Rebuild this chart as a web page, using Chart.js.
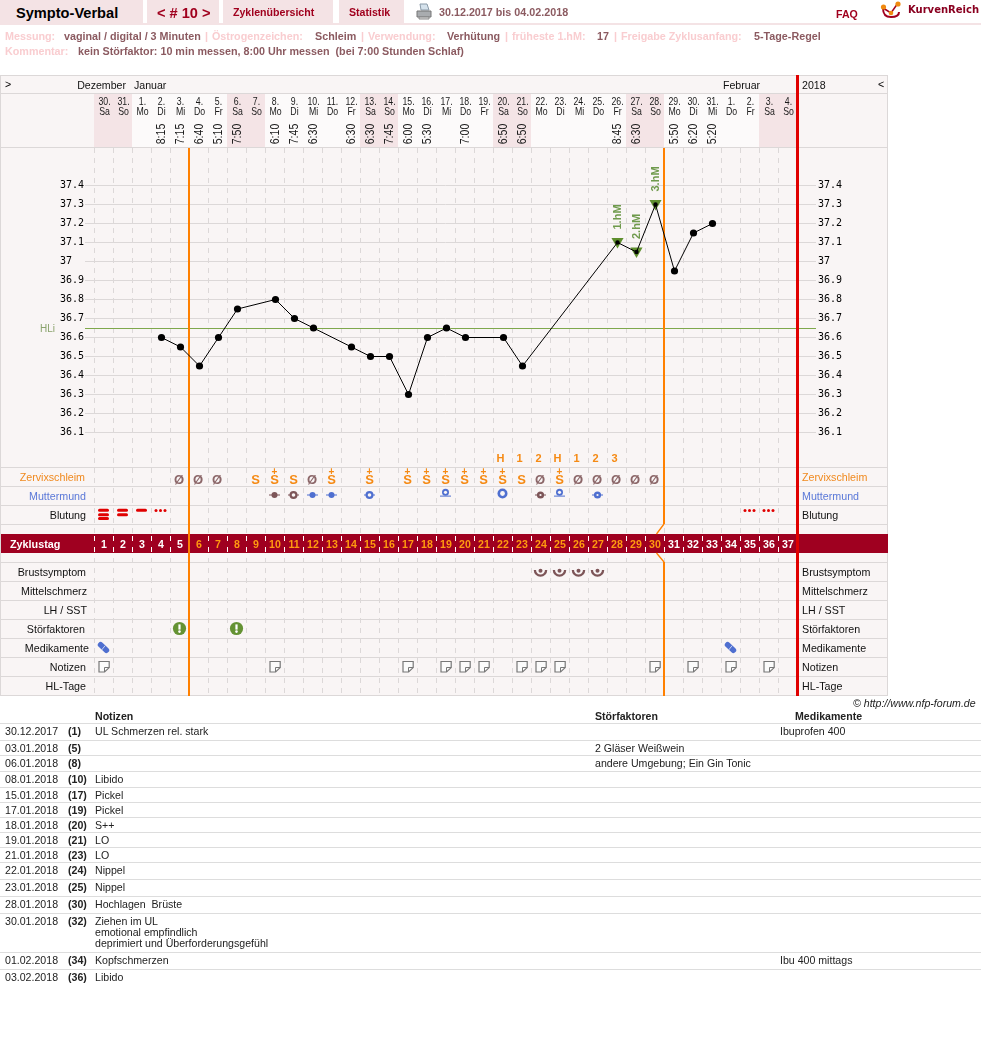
<!DOCTYPE html>
<html lang="de"><head><meta charset="utf-8"><title>Sympto-Verbal</title>
<style>
html,body{margin:0;padding:0;background:#fff}
body{width:981px;height:1064px;position:relative;overflow:hidden;font:10.6px "Liberation Sans",Arial,sans-serif;color:#222}
canvas{position:absolute;left:0;top:0}
.a{position:absolute;white-space:pre;line-height:14px}
.tab{position:absolute;top:0;height:23px;background:#f4e3e5}
.b{font-weight:bold}
.lab{color:#f9cdd0;font-weight:bold;font-size:10.75px}
.val{color:#8b5a60;font-weight:bold;font-size:10.75px}
.nav{color:#a0001e;font-weight:bold}
.ln{position:absolute;left:0;width:981px;height:1px;background:#ddd}
</style></head><body>
<canvas id="c" width="981" height="1064"></canvas>
<div class="tab" style="left:0;width:143px"></div>
<div class="tab" style="left:147px;width:72px"></div>
<div class="tab" style="left:223px;width:110px"></div>
<div class="tab" style="left:339px;width:65px"></div>
<div style="position:absolute;left:0;top:23px;width:981px;height:2px;background:#f4e3e5"></div>
<div class="a b" style="left:16px;top:6px;font-size:14.6px;color:#000">Sympto-Verbal</div>
<div class="a nav" style="left:157px;top:6px;font-size:14.6px">&lt; # 10 &gt;</div>
<div class="a nav" style="left:233px;top:5px">Zyklenübersicht</div>
<div class="a nav" style="left:349px;top:5px">Statistik</div>
<svg style="position:absolute;left:416px;top:3px" width="16" height="17"><path d="M4 1h7l2 6H5z" fill="#d5e2ec" stroke="#8a9aa8"/><path d="M1 8h14v6H1z" fill="#a9acaf" stroke="#777"/><path d="M3 14h10v2H3z" fill="#ddd" stroke="#888"/></svg>
<div class="a val" style="left:439px;top:5px">30.12.2017 bis 04.02.2018</div>
<div class="a nav" style="left:836px;top:7px">FAQ</div>
<svg style="position:absolute;left:880px;top:1px" width="24" height="18"><path d="M3 7c0 6 2 9 8 9s8-2 8-5" fill="none" stroke="#a0001e" stroke-width="2"/><path d="M3 7l8 5 7-10" fill="none" stroke="#a0001e" stroke-width="1.5"/><circle cx="3.5" cy="6" r="2.6" fill="#f08a10"/><circle cx="11" cy="12" r="2.3" fill="#f08a10"/><circle cx="18" cy="3" r="2.6" fill="#f08a10"/></svg>
<div class="a" style="left:908px;top:3px;font:bold 10px 'DejaVu Sans';color:#8a0020;line-height:14px">KurvenReich</div>
<div id="meta"></div>
<div id="notes"></div>
<script src="https://cdn.jsdelivr.net/npm/chart.js@4/dist/chart.umd.min.js"></script>
<script>
// ---------- data ----------
const days = ['30.12','31.12','01.01','02.01','03.01','04.01','05.01','06.01','07.01','08.01','09.01','10.01','11.01','12.01','13.01','14.01','15.01','16.01','17.01','18.01','19.01','20.01','21.01','22.01','23.01','24.01','25.01','26.01','27.01','28.01','29.01','30.01','31.01','01.02','02.02','03.02','04.02'];
const dayNumbers = ['30','31','1','2','3','4','5','6','7','8','9','10','11','12','13','14','15','16','17','18','19','20','21','22','23','24','25','26','27','28','29','30','31','1','2','3','4'];
const weekdays = ['Sa','So','Mo','Di','Mi','Do','Fr','Sa','So','Mo','Di','Mi','Do','Fr','Sa','So','Mo','Di','Mi','Do','Fr','Sa','So','Mo','Di','Mi','Do','Fr','Sa','So','Mo','Di','Mi','Do','Fr','Sa','So'];
const times = ['','','','8:15','7:15','6:40','5:10','7:50','','6:10','7:45','6:30','','6:30','6:30','7:45','6:00','5:30','','7:00','','6:50','6:50','','','','','8:45','6:30','','5:50','6:20','5:20','','','',''];
const temps = [null,null,null,36.6,36.55,36.45,36.6,36.75,null,36.8,36.7,36.65,null,36.55,36.5,36.5,36.3,36.6,36.65,36.6,null,36.6,36.45,null,null,null,null,37.1,37.05,37.3,36.95,37.15,37.2,null,null,null,null];
const tempTicks = [37.4,37.3,37.2,37.1,37,36.9,36.8,36.7,36.6,36.5,36.4,36.3,36.2,36.1];
const coverline = 36.65;
const highLabels = [[27,'1.hM'],[28,'2.hM'],[29,'3.hM']];
const peakRow = ['','','','','','','','','','','','','','','','','','','','','','H','1','2','H','1','2','3','','','','','','','','',''];
const mucus = ['','','','','0','0','0','','S','S+','S','0','S+','','S+','','S+','S+','S+','S+','S+','S+','S','0','S+','0','0','0','0','0','','','','','','',''];
const cervix = ['','','','','','','','','','dotB','ringB','dotA','dotA','','ringA','','','','highA','','','largeA','','ringSB','highA','','ringSA','','','','','','','','','',''];
const bleeding = [3,2,1,'d',0,0,0,0,0,0,0,0,0,0,0,0,0,0,0,0,0,0,0,0,0,0,0,0,0,0,0,0,0,0,'d','d',0];
const cycleDays = ['1','2','3','4','5','6','7','8','9','10','11','12','13','14','15','16','17','18','19','20','21','22','23','24','25','26','27','28','29','30','31','32','33','34','35','36','37'];
const breastDays = [23,24,25,26];
const disturbDays = [4,7];
const medDays = [0,33];
const noteDays = [0,9,16,18,19,20,22,23,24,29,31,33,35];
const phaseEnds = [5,30];
const upperRows = ['Zervixschleim','Muttermund','Blutung'];
const lowerRows = ['Brustsymptom','Mittelschmerz','LH / SST','Störfaktoren','Medikamente','Notizen','HL-Tage'];
const noteRows = [
 ['30.12.2017','(1)','UL Schmerzen rel. stark','','Ibuprofen 400'],
 ['03.01.2018','(5)','','2 Gläser Weißwein',''],
 ['06.01.2018','(8)','','andere Umgebung; Ein Gin Tonic',''],
 ['08.01.2018','(10)','Libido','',''],
 ['15.01.2018','(17)','Pickel','',''],
 ['17.01.2018','(19)','Pickel','',''],
 ['18.01.2018','(20)','S++','',''],
 ['19.01.2018','(21)','LO','',''],
 ['21.01.2018','(23)','LO','',''],
 ['22.01.2018','(24)','Nippel','',''],
 ['23.01.2018','(25)','Nippel','',''],
 ['28.01.2018','(30)','Hochlagen  Brüste','',''],
 ['30.01.2018','(32)','Ziehen im UL\nemotional empfindlich\ndeprimiert und Überforderungsgefühl','',''],
 ['01.02.2018','(34)','Kopfschmerzen','','Ibu 400 mittags'],
 ['03.02.2018','(36)','Libido','','']
];
const metaItems = [
 ['lab','Messung:',5,29],['val','vaginal / digital / 3 Minuten',64,29],['lab','|',205,29],['lab','Östrogenzeichen:',212,29],['val','Schleim',315,29],['lab','|',361,29],['lab','Verwendung:',368,29],['val','Verhütung',447,29],['lab','|',505,29],['lab','früheste 1.hM:',512,29],['val','17',597,29],['lab','|',614,29],['lab','Freigabe Zyklusanfang:',621,29],['val','5-Tage-Regel',754,29],
 ['lab','Kommentar:',5,44],['val','kein Störfaktor: 10 min messen, 8:00 Uhr messen  (bei 7:00 Stunden Schlaf)',78,44]
];

// ---------- html parts ----------
const meta = document.getElementById('meta');
metaItems.forEach(([k,t,x,y])=>{const d=document.createElement('div');d.className='a '+k;d.textContent=t;d.style.left=x+'px';d.style.top=y+'px';meta.appendChild(d);});
const notes = document.getElementById('notes');
function put(t,x,y,extra){const d=document.createElement('div');d.className='a';d.textContent=t;d.style.cssText+='left:'+x+'px;top:'+y+'px;'+(extra||'');notes.appendChild(d);}
put('© http://www.nfp-forum.de',853,696,'font-style:italic;');
put('Notizen',95,709,'font-weight:bold;');put('Störfaktoren',595,709,'font-weight:bold;');put('Medikamente',795,709,'font-weight:bold;');
const rowTops=[724,741,756,772,788,803,818,833,848,863,880,897,914,953,970];
rowTops.forEach((t,i)=>{
  const l=document.createElement('div');l.className='ln';l.style.top=(t-1)+'px';notes.appendChild(l);
  const r=noteRows[i];
  put(r[0],5,t);put(r[1],68,t,'font-weight:bold;');
  r[2].split('\n').forEach((s,j)=>put(s,95,t+j*11));
  put(r[3],595,t);put(r[4],780,t);
});

// ---------- icons ----------
const BROWN='#7d5558',BLUE='#4f6fd0',RED='#e00000',GREEN='#649233',PANEL='#f9f5f5',ORANGE='#ff8000',GRID='#dcd8d8';
function icon(fn){const c=document.createElement('canvas');c.width=19;c.height=19;fn(c.getContext('2d'));return c;}
function bars(n){return icon(g=>{g.fillStyle=RED;[2.7,7.3,11].slice(0,n).forEach(y=>{g.beginPath();g.roundRect(4,y,11,3,1.5);g.fill();});});}
const dots3=icon(g=>{g.fillStyle=RED;[5,9.5,14].forEach(x=>{g.beginPath();g.arc(x,4.5,1.5,0,7);g.fill();});});
function disc(g,x,y,r,h,col){g.fillStyle=col;g.beginPath();g.arc(x,y,r,0,7);g.fill();if(h){g.fillStyle=PANEL;g.beginPath();g.arc(x,y,h,0,7);g.fill();}}
function hline(g,y,col){g.fillStyle=col;g.fillRect(4,y,11,1);}
function mm(kind,col){return icon(g=>{
  if(kind==='dot'){hline(g,7.5,col);disc(g,9.5,8,3,0,col);}
  if(kind==='ringS'){hline(g,7.5,col);disc(g,9.5,8,3.6,1.1,col);}
  if(kind==='ring'){hline(g,7.5,col);disc(g,9.5,8,4,1.8,col);}
  if(kind==='high'){hline(g,8.6,col);disc(g,9.5,5.3,3.5,1.6,col);}
  if(kind==='large'){disc(g,9.5,6.5,5,2.4,col);}
});}
const mmIcons={dotA:mm('dot',BLUE),dotB:mm('dot',BROWN),ringA:mm('ring',BLUE),ringB:mm('ring',BROWN),ringSA:mm('ringS',BLUE),ringSB:mm('ringS',BROWN),highA:mm('high',BLUE),largeA:mm('large',BLUE)};
const bloodIcons={3:bars(3),2:bars(2),1:bars(1),d:dots3};
const smile=icon(g=>{g.strokeStyle=BROWN;g.lineWidth=2.3;g.beginPath();g.arc(9.5,8,5.6,0,Math.PI);g.stroke();disc(g,9.5,8.8,2,0,BROWN);});
const warn=icon(g=>{disc(g,9.5,9.5,6.6,0,GREEN);g.fillStyle='#fff';g.fillRect(8.4,5.4,2.2,5.2);g.beginPath();g.arc(9.5,12.6,1.3,0,7);g.fill();});
const pill=icon(g=>{g.lineCap='round';g.lineWidth=5.6;g.strokeStyle=BLUE;g.beginPath();g.moveTo(6.6,6.8);g.lineTo(12.4,12.2);g.stroke();g.lineCap='butt';g.lineWidth=1;g.strokeStyle='#c8d2f0';g.beginPath();g.moveTo(7.6,12);g.lineTo(11.2,7.6);g.stroke();});
const note=icon(g=>{g.fillStyle='#fbfbfb';g.strokeStyle='#777';g.lineWidth=1.2;g.beginPath();g.moveTo(5,4.5);g.lineTo(15.2,4.5);g.lineTo(15.2,10.6);g.lineTo(10.6,15);g.lineTo(5,15);g.closePath();g.fill();g.stroke();g.lineWidth=1;g.beginPath();g.moveTo(15.2,10.5);g.lineTo(10.5,10.5);g.lineTo(10.5,15);g.stroke();});

// ---------- rows (row 0 starts at the Zervixschleim separator, one unit = one row) ----------
const upperPos=i=>i+0.5;
const lowerPos=i=>i+5.447;
const blank=()=>days.map(()=>null);
function flagged(list,pos){const a=blank();list.forEach(i=>a[i]=pos);return a;}
function iconSet(data,style){return{type:'line',data,yAxisID:'yRows',showLine:false,pointRadius:9.5,pointHoverRadius:9.5,pointBorderWidth:0,pointStyle:style,spanGaps:false};}

const hmPoints=blank();highLabels.forEach(([i])=>hmPoints[i]=temps[i]);
const datasets=[
 {type:'line',label:'Temperatur',data:temps,yAxisID:'y',spanGaps:true,borderColor:'#000',borderWidth:1,tension:0,
  pointBackgroundColor:'#000',pointBorderWidth:0,pointRadius:c=>hmPoints[c.dataIndex]!=null?2.2:3.6},
 {type:'line',label:'Hochlage',data:hmPoints,yAxisID:'y',showLine:false,pointStyle:'triangle',pointRotation:180,pointRadius:7,pointBorderWidth:0,pointBackgroundColor:'#5f8f2e'},
 iconSet(cervix.map(v=>v?upperPos(1):null),c=>mmIcons[cervix[c.dataIndex]]),
 iconSet(bleeding.map(v=>v?upperPos(2):null),c=>bloodIcons[bleeding[c.dataIndex]]),
 iconSet(flagged(breastDays,lowerPos(0)),smile),
 iconSet(flagged(disturbDays,lowerPos(3)),warn),
 iconSet(flagged(medDays,lowerPos(4)),pill),
 iconSet(flagged(noteDays,lowerPos(5)),note)
];

// ---------- panel drawing plugin ----------
const SANS='"Liberation Sans",Arial,sans-serif';
function txt(g,t,x,y,font,color,align){g.font=font;g.fillStyle=color;g.textAlign=align||'left';g.textBaseline='alphabetic';g.fillText(t,x,y);}
const panel={id:'panel',
 beforeDraw(ch){
  const g=ch.ctx,x=ch.scales.x,r=ch.scales.yRows;g.save();
  g.fillStyle=PANEL;g.fillRect(0,75,887,621);
  const bw=x.getPixelForValue(1)-x.getPixelForValue(0);
  days.forEach((d,i)=>{const w=weekdays[i];const px=x.getPixelForValue(i);g.fillStyle=(w==='Sa'||w==='So')?'#f4e4e6':'#fcfafa';g.fillRect(px-bw/2,94,bw,54);});
  g.fillStyle=GRID;
  g.fillRect(0,75,887,1);g.fillRect(0,93,887,1);g.fillRect(0,147,887,1);
  g.fillRect(0,75,1,621);g.fillRect(887,75,1,621);
  [0,1,2,3].forEach(k=>g.fillRect(0,Math.round(r.getPixelForValue(k))-1,887,1));
  [...Array(8).keys()].forEach(k=>g.fillRect(0,Math.round(r.getPixelForValue(lowerPos(k)-0.5)),887,1));
  txt(g,'>',5,88,'10.6px '+SANS,'#000');txt(g,'<',878,88,'10.6px '+SANS,'#000');
  txt(g,'Dezember',126,89,'10.6px '+SANS,'#111','right');txt(g,'Januar',134,89,'10.6px '+SANS,'#111');
  txt(g,'Februar',741.5,89,'10.6px '+SANS,'#111','center');txt(g,'2018',802,89,'10.6px '+SANS,'#111');
  // day headings
  days.forEach((d,i)=>{const px=x.getPixelForValue(i)+1;
    g.save();g.translate(px,105);g.scale(0.76,1);txt(g,dayNumbers[i]+'.',0,0,'11.5px '+SANS,'#1a1a1a','center');g.restore();
    g.save();g.translate(px,115);g.scale(0.76,1);txt(g,weekdays[i],0,0,'11.5px '+SANS,'#1a1a1a','center');g.restore();});
  g.restore();
 },
 beforeDatasetsDraw(ch){
  const g=ch.ctx,x=ch.scales.x,y=ch.scales.y;g.save();
  const bw=x.getPixelForValue(1)-x.getPixelForValue(0);
  const edge=i=>x.getPixelForValue(i)-bw/2;
  // times
  times.forEach((t,i)=>{if(!t)return;g.save();g.translate(x.getPixelForValue(i)+4.5,134);g.rotate(-Math.PI/2);g.scale(0.84,1);txt(g,t,0,0,'12.5px '+SANS,'#1a1a1a','center');g.restore();});
  // coverline
  const hy=Math.round(y.getPixelForValue(coverline))+0.5;
  g.strokeStyle='#7fa84c';g.lineWidth=1;g.beginPath();g.moveTo(85,hy);g.lineTo(816,hy);g.stroke();
  txt(g,'HLi',40,hy+3.5,'10px '+SANS,'#8aa36c');
  // cycle-day bar
  g.fillStyle='#9f0020';g.fillRect(1,534,887,19);
  g.strokeStyle='#fff';g.lineWidth=1;g.setLineDash([5,6]);
  days.forEach((d,i)=>{const e=Math.round(edge(i))+0.5;g.beginPath();g.moveTo(e,536);g.lineTo(e,553);g.stroke();});
  g.setLineDash([]);
  txt(g,'Zyklustag',10,547.5,'bold 10.8px '+SANS,'#fff');
  cycleDays.forEach((t,i)=>{const inPhase=i>=phaseEnds[0]&&i<phaseEnds[1];txt(g,t,x.getPixelForValue(i)+0.5,547.5,'bold 10.6px '+SANS,inPhase?'#ff9a10':'#fff','center');});
  // phase lines
  g.fillStyle=ORANGE;
  const e1=Math.round(edge(phaseEnds[0]))-1,e2=Math.round(edge(phaseEnds[1]))-1;
  g.fillRect(e1,148,2,548);
  g.fillRect(e2,148,2,376);g.fillRect(e2,562,2,134);
  g.strokeStyle=ORANGE;g.lineWidth=1.3;
  g.beginPath();g.moveTo(e2+1,524);g.lineTo(e2-6.5,534);g.moveTo(e2-6.5,553);g.lineTo(e2+1,562);g.stroke();
  // stop line
  g.fillStyle=RED;g.fillRect(Math.round(edge(36)+bw)-1,75,3,621);
  g.restore();
 },
 beforeDatasetDraw(ch,args){
  // the temperature curve sits one pixel right of the column centre, the triangles one pixel higher
  if(args.index<2){ch.ctx.save();ch.ctx.translate(1,args.index===1?-1:0);}
 },
 afterDatasetDraw(ch,args){
  if(args.index<2)ch.ctx.restore();
 },
 afterDatasetsDraw(ch){
  const g=ch.ctx,x=ch.scales.x,y=ch.scales.y,r=ch.scales.yRows;g.save();
  highLabels.forEach(([i,t])=>{g.save();g.translate(x.getPixelForValue(i)+4.5,y.getPixelForValue(temps[i])-13);g.rotate(-Math.PI/2);txt(g,t,0,0,'bold 11px '+SANS,'#6f9a4c','left');g.restore();});
  peakRow.forEach((t,i)=>{if(t)txt(g,t,x.getPixelForValue(i)-2,462,'bold 11px '+SANS,'#f58a14','center');});
  mucus.forEach((t,i)=>{if(!t)return;const px=x.getPixelForValue(i);
    if(t==='0'){txt(g,'Ø',px-0.5,484,'bold 13px '+SANS,'#8b6668','center');return;}
    txt(g,'S',px,484,'bold 13px '+SANS,'#f58a14','center');
    if(t==='S+')txt(g,'+',px,475,'bold 10px '+SANS,'#f58a14','center');});
  const ends=[85,86,86],ends2=[86,87,87,85,89,86,86];
  const col=['#f08a20','#5a78d8','#111'];
  upperRows.forEach((t,i)=>{const py=r.getPixelForValue(upperPos(i))+3.5;txt(g,t,ends[i],py,'10.7px '+SANS,col[i],'right');txt(g,t,802,py,'10.7px '+SANS,col[i]);});
  lowerRows.forEach((t,i)=>{const py=r.getPixelForValue(lowerPos(i))+4.5;txt(g,t,ends2[i],py,'10.7px '+SANS,'#111','right');txt(g,t,802,py,'10.7px '+SANS,'#111');});
  g.restore();
 }
};

// ---------- chart ----------
const tempLabel=v=>String(v);
new Chart(document.getElementById('c'),{
 data:{labels:days,datasets},
 plugins:[panel],
 options:{
  responsive:false,animation:false,devicePixelRatio:1,
  layout:{padding:{top:75,left:60,right:0,bottom:368}},
  plugins:{legend:{display:false},tooltip:{enabled:false}},
  events:[],
  scales:{
   x:{type:'category',position:'top',offset:true,afterFit:s=>{s.height=73;},
      grid:{offset:true,color:GRID,drawTicks:false},border:{display:false,dash:[5,5]},
      ticks:{display:false}},
   y:{type:'linear',position:'left',min:37.4-(696-185.5)/190,max:37.4+37.5/190,afterFit:s=>{s.width=34;},
      afterBuildTicks:s=>{s.ticks=tempTicks.map(value=>({value}));},
      grid:{color:GRID,tickLength:9,tickColor:GRID},border:{display:false},
      ticks:{crossAlign:'far',padding:2,color:'#000',font:{family:'"DejaVu Sans Mono",monospace',size:10},callback:tempLabel}},
   y2:{type:'linear',position:'right',min:37.4-(696-185.5)/190,max:37.4+37.5/190,afterFit:s=>{s.width=184;},
      afterBuildTicks:s=>{s.ticks=tempTicks.map(value=>({value}));},
      grid:{drawOnChartArea:false,color:GRID,tickLength:19,tickColor:GRID},border:{display:false},
      ticks:{padding:2,color:'#000',font:{family:'"DejaVu Sans Mono",monospace',size:10},callback:tempLabel}},
   yRows:{type:'linear',axis:'y',position:'left',display:false,min:-320/19,max:12,reverse:true}
  }
 }
});
</script>
</body></html>
